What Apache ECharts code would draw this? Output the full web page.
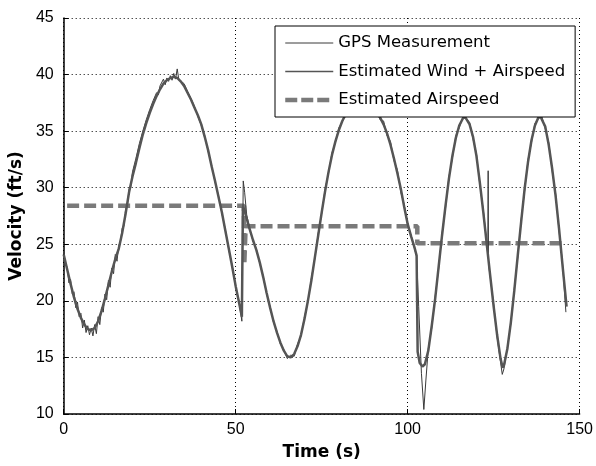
<!DOCTYPE html>
<html>
<head>
<meta charset="utf-8">
<script src="https://cdn.jsdelivr.net/npm/echarts@6/dist/echarts.min.js"></script>
<style>
html,body{margin:0;padding:0;background:#fff;}
#c{width:596px;height:466px;}
</style>
</head>
<body>
<div id="c"></div>
<script>
// ---- data ----
var xTicks = [0, 50, 100, 150];
var yTicks = [10, 15, 20, 25, 30, 35, 40, 45];

var estTime = [0,1,2,3,4,5,6,7,8,9,10,11,12,13,14,15,16,17,18,19,20,21,22,23,24,25,26,27,28,29,30,31,32,33,34,35,36,37,38,39,40,41,42,43,44,45,46,47,48,49,50,51,51.8,52.1,52.6,53,54,55,56,57,58,59,60,61,62,63,64,65,66,67,68,69,70,71,72,73,74,75,76,77,78,79,80,81,82,83,84,85,86,87,88,89,90,91,92,93,94,95,96,97,98,99,100,101,102,102.6,102.9,103.5,104.3,105,106,107,108,109,110,111,112,113,114,115,116,116.6,117,118,119,120,121,122,123,124,125,126,127,127.6,128,129,130,131,132,133,134,135,136,137,138,138.6,139,140,141,142,143,144,145,146.2];
var estWindAirspeed = [24.1,22.8,21.5,20.3,19.3,18.5,17.9,17.5,17.4,17.6,18.2,19.1,20.2,21.4,22.6,23.7,24.6,26.0,27.7,29.6,31.0,32.2,33.5,34.7,35.7,36.6,37.4,38.1,38.7,39.2,39.5,39.7,39.8,39.7,39.4,39.0,38.4,37.8,37.1,36.4,35.6,34.5,33.3,31.9,30.6,29.2,27.8,26.2,24.6,23.0,21.3,19.8,18.6,28.3,28.0,27.5,26.4,25.4,24.5,23.4,22.1,20.7,19.4,18.2,17.2,16.3,15.6,15.1,15.0,15.3,16.0,17.0,18.4,20.0,21.8,23.8,25.8,27.8,29.7,31.4,32.9,34.1,35.1,35.9,36.5,37.0,37.3,37.5,37.6,37.6,37.4,37.1,36.9,36.6,36.2,35.6,34.8,33.8,32.6,31.3,29.9,28.3,26.8,25.7,24.7,24.0,15.5,14.5,14.2,14.4,15.6,17.8,20.2,23.0,25.8,28.4,30.8,32.8,34.4,35.5,36.1,36.3,36.2,35.6,34.5,32.8,30.4,27.8,25.0,22.2,19.5,17.0,14.9,14.1,14.3,15.8,18.1,20.9,24.0,27.0,29.9,32.3,34.2,35.5,36.2,36.3,36.2,35.4,33.8,31.7,29.3,26.4,23.2,19.5];

var gpsTime = [0,0.5,1,1.5,2,2.5,3,3.5,4,4.5,5,5.5,6,6.5,7,7.5,8,8.5,9,9.5,10,10.5,11,11.5,12,12.5,13,13.5,14,14.5,15,15.5,16,16.5,17,17.5,18,18.5,19,19.5,20,20.5,21,21.5,22,22.5,23,23.5,24,24.5,25,25.5,26,26.5,27,27.5,28,28.5,29,29.5,30,30.5,31,31.5,32,32.5,33,33.5,34,35,36,37,38,39,40,41,42,43,44,45,46,47,48,49,50,51,51.8,52.2,52.6,53.2,54,55,56,57,58,59,60,61,62,63,64,65,66,67,68,69,70,71,72,73,74,75,76,77,78,79,80,81,82,83,84,85,86,87,88,89,90,91,92,93,94,95,96,97,98,99,100,101,102,102.6,103.2,104,104.7,105.3,106,107,108,109,110,111,112,113,114,115,116,117,118,119,120,121,122,123,123.3,123.4,123.5,124,125,126,127,127.5,128,129,130,131,132,133,134,135,136,137,138,139,140,141,142,143,144,145,146];
var gpsMeasurement = [24.3,23.2,23.0,21.6,21.9,20.6,20.8,19.4,19.9,18.6,18.9,17.6,18.3,17.2,17.8,17.0,17.6,16.9,17.9,17.1,18.6,17.9,19.4,19.0,20.6,20.1,21.8,21.2,22.9,22.4,24.1,23.5,24.9,25.2,26.4,26.6,28.1,28.4,29.9,30.1,31.4,31.3,32.6,32.5,33.9,33.8,35.0,35.0,36.0,35.9,36.9,36.8,37.7,37.6,38.4,38.2,39.0,38.9,39.6,39.1,39.7,39.4,39.9,39.5,40.1,39.6,40.5,39.5,39.6,39.2,38.5,37.9,37.2,36.3,35.5,34.6,33.2,32.0,30.5,29.3,27.7,26.3,24.5,23.1,21.2,19.9,18.2,30.6,29.6,27.6,26.5,25.3,24.6,23.3,22.2,20.6,19.5,18.1,17.3,16.2,15.7,14.9,15.2,15.1,16.2,16.9,18.6,19.9,22.0,23.7,26.0,27.7,29.9,31.3,33.1,34.0,35.3,35.8,36.7,37.1,37.4,37.6,37.5,37.7,37.3,37.2,36.6,36.8,36.0,35.9,34.6,34.1,32.4,31.6,29.6,28.5,26.7,25.8,24.6,23.9,19.5,13.6,10.4,13.0,15.8,17.6,20.4,22.8,26.0,28.2,31.0,32.6,34.6,35.3,36.2,36.1,35.8,34.3,33.0,30.2,28.0,25.2,24.0,31.5,23.2,22.1,19.7,16.8,14.6,13.5,14.0,15.9,18.0,21.1,23.8,27.2,29.7,32.5,34.0,35.7,36.1,36.3,35.2,34.0,31.5,29.5,26.2,23.4,19.0];

var airTime = [1, 52.4, 52.5, 52.9, 102.8, 102.8, 146];
var estAirspeed = [28.4, 28.4, 23.2, 26.6, 26.6, 25.1, 25.1];

var seriesNames = ['GPS Measurement', 'Estimated Wind + Airspeed', 'Estimated Airspeed'];

function pairs(t, v) { return t.map(function (x, i) { return [x, v[i]]; }); }

var FONT = 'DejaVu Sans';
var chart = echarts.init(document.getElementById('c'), null, { renderer: 'canvas' });
chart.setOption({
  backgroundColor: '#ffffff',
  animation: false,
  grid: { left: 63, right: 13, top: 18, bottom: 49, containLabel: false },
  legend: {
    orient: 'vertical',
    left: 275,
    top: 26,
    z: 20,
    backgroundColor: '#ffffff',
    borderColor: '#000000',
    borderWidth: 1,
    borderRadius: 0,
    padding: [7, 10, 7, 8],
    itemWidth: 48,
    itemHeight: 14,
    itemGap: 8.5,
    itemStyle: { opacity: 0, borderWidth: 0 },
    textStyle: { fontFamily: FONT, fontSize: 16.5, color: '#000', lineHeight: 20 },
    data: [
      { name: seriesNames[0], lineStyle: { width: 1 } },
      { name: seriesNames[1], lineStyle: { width: 1.5 } },
      { name: seriesNames[2], lineStyle: { width: 4.5, type: [12, 4] } }
    ]
  },
  xAxis: {
    type: 'value',
    min: 0, max: 150, interval: 50,
    axisLine: { show: true, onZero: false, lineStyle: { color: '#000', width: 1.5 } },
    axisTick: { show: true, inside: true, length: 5, lineStyle: { color: '#000' } },
    axisLabel: { margin: 8, fontFamily: 'Liberation Sans', fontSize: 16, color: '#000' },
    splitLine: { show: true, lineStyle: { color: '#000', type: [1, 3], width: 1 } },
    name: 'Time (s)',
    nameLocation: 'middle',
    nameGap: 30,
    nameTextStyle: { fontFamily: FONT, fontWeight: 'bold', fontSize: 17, color: '#000' }
  },
  yAxis: {
    type: 'value',
    min: 10, max: 45, interval: 5,
    axisLine: { show: true, onZero: false, lineStyle: { color: '#000', width: 1.5 } },
    axisTick: { show: true, inside: true, length: 5, lineStyle: { color: '#000' } },
    axisLabel: { margin: 10, fontFamily: 'Liberation Sans', fontSize: 16, color: '#000' },
    splitLine: { show: true, lineStyle: { color: '#000', type: [1, 3], width: 1 } },
    name: 'Velocity (ft/s)',
    nameLocation: 'middle',
    nameGap: 36,
    nameTextStyle: { fontFamily: FONT, fontWeight: 'bold', fontSize: 17, color: '#000' }
  },
  series: [
    {
      name: seriesNames[0], type: 'line', symbol: 'none', z: 3,
      data: pairs(gpsTime, gpsMeasurement),
      itemStyle: { color: '#3a3a3a' },
      lineStyle: { color: '#3a3a3a', width: 1 }
    },
    {
      name: seriesNames[1], type: 'line', symbol: 'none', z: 4,
      data: pairs(estTime, estWindAirspeed),
      itemStyle: { color: '#555555' },
      lineStyle: { color: '#555555', width: 2.5 }
    },
    {
      name: seriesNames[2], type: 'line', symbol: 'none', z: 2,
      data: pairs(airTime, estAirspeed),
      itemStyle: { color: '#7a7a7a' },
      lineStyle: { color: '#7a7a7a', width: 4.5, type: [12, 5] }
    }
  ]
});
</script>
</body>
</html>
